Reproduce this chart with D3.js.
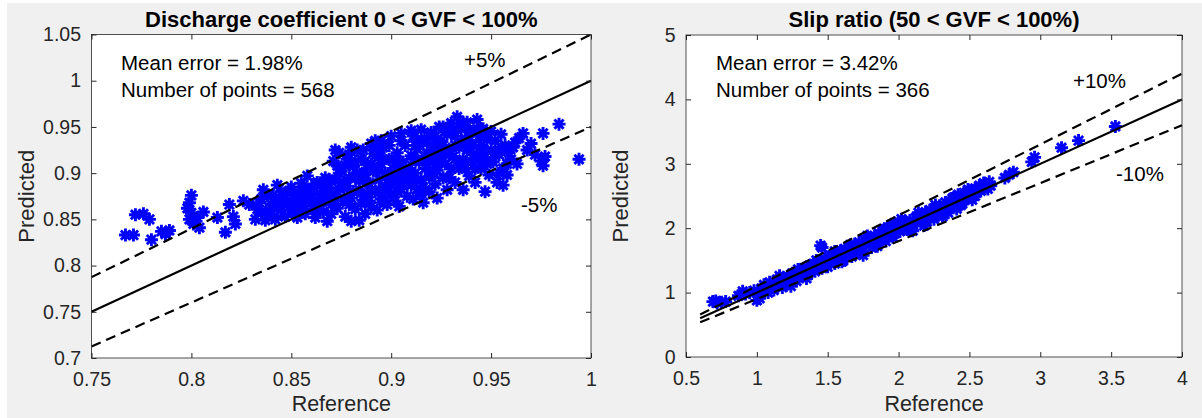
<!DOCTYPE html>
<html>
<head>
<meta charset="utf-8">
<script src="https://cdn.jsdelivr.net/npm/d3@7"></script>
<style>
  body { margin: 0; background: #ffffff; }
  svg { display: block; font-family: "Liberation Sans", Arial, sans-serif; }
  .tick text { fill: #262626; font-size: 19.5px; }
</style>
</head>
<body>
<script>
// Data
// Left panel: discharge coefficient, [reference, predicted]
var dcPoints = [
  [0.767,0.833],[0.771,0.833],[0.772,0.855],[0.776,0.856],[0.779,0.850],[0.780,0.828],[0.785,0.837],[0.789,0.838],[0.787,0.834],
  [0.798,0.862],[0.799,0.868],[0.800,0.876],[0.800,0.857],[0.799,0.850],[0.801,0.845],[0.804,0.841],[0.806,0.858],[0.803,0.852],
  [0.813,0.852],[0.817,0.836],[0.819,0.866],[0.821,0.853],[0.822,0.845],[0.826,0.870],[0.829,0.866],
  [0.832,0.850],[0.833,0.861],[0.835,0.872],[0.836,0.882],[0.838,0.855],[0.840,0.866],[0.841,0.876],[0.842,0.850],[0.843,0.887],
  [0.845,0.860],[0.846,0.870],[0.847,0.853],[0.848,0.879],[0.849,0.864],[0.834,0.868],[0.837,0.849],[0.839,0.860],[0.844,0.872],
  [0.850,0.885],[0.851,0.858],[0.852,0.870],
  [0.853,0.852],[0.854,0.878],[0.855,0.889],[0.856,0.864],[0.857,0.856],[0.858,0.897],[0.859,0.872],[0.860,0.883],[0.861,0.861],
  [0.862,0.852],[0.863,0.890],[0.864,0.869],[0.865,0.877],[0.866,0.858],[0.867,0.895],[0.868,0.848],[0.869,0.884],[0.870,0.866],
  [0.856,0.872],[0.860,0.868],[0.864,0.861],[0.868,0.875],[0.870,0.856],
  [0.871,0.913],[0.872,0.893],[0.873,0.880],[0.873,0.862],[0.874,0.922],[0.875,0.902],[0.876,0.870],[0.877,0.853],[0.878,0.915],
  [0.878,0.886],[0.879,0.895],[0.880,0.848],[0.880,0.873],[0.881,0.907],[0.882,0.861],[0.883,0.925],[0.884,0.882],[0.884,0.892],
  [0.885,0.867],[0.886,0.900],[0.887,0.856],[0.887,0.913],[0.888,0.878],[0.889,0.889],[0.890,0.932],[0.890,0.864],[0.876,0.890],
  [0.882,0.896],[0.886,0.875],[0.884,0.849],
  [0.891,0.902],[0.892,0.880],[0.892,0.919],[0.893,0.860],[0.894,0.893],[0.895,0.910],[0.895,0.872],[0.896,0.928],[0.897,0.885],
  [0.898,0.897],[0.898,0.866],[0.899,0.915],[0.900,0.940],[0.900,0.878],[0.901,0.905],[0.902,0.890],[0.902,0.870],[0.903,0.922],
  [0.904,0.898],[0.904,0.864],[0.905,0.883],[0.906,0.912],[0.907,0.930],[0.907,0.894],[0.908,0.875],[0.909,0.905],[0.910,0.887],
  [0.910,0.919],[0.893,0.905],[0.897,0.900],[0.901,0.895],[0.904,0.908],[0.908,0.900],
  [0.911,0.940],[0.911,0.872],[0.912,0.900],[0.913,0.926],[0.913,0.883],[0.914,0.912],[0.915,0.947],[0.915,0.893],[0.916,0.868],
  [0.917,0.918],[0.917,0.905],[0.918,0.933],[0.919,0.880],[0.919,0.896],[0.920,0.944],[0.921,0.912],[0.921,0.925],[0.922,0.888],
  [0.923,0.903],[0.923,0.873],[0.924,0.950],[0.925,0.919],[0.925,0.935],[0.926,0.895],[0.927,0.910],[0.928,0.882],[0.928,0.942],
  [0.929,0.926],[0.930,0.905],[0.930,0.954],[0.914,0.930],[0.918,0.910],[0.922,0.940],[0.926,0.930],[0.912,0.915],[0.920,0.920],
  [0.924,0.912],
  [0.931,0.918],[0.932,0.940],[0.932,0.890],[0.933,0.961],[0.934,0.928],[0.934,0.905],[0.935,0.948],[0.936,0.915],[0.936,0.882],
  [0.937,0.937],[0.938,0.925],[0.938,0.955],[0.939,0.897],[0.940,0.945],[0.940,0.912],[0.941,0.930],[0.942,0.890],[0.943,0.958],
  [0.943,0.920],[0.944,0.940],[0.945,0.905],[0.945,0.930],[0.946,0.948],[0.947,0.880],[0.947,0.917],[0.948,0.936],[0.949,0.898],
  [0.950,0.925],[0.950,0.945],[0.937,0.905],[0.941,0.920],[0.944,0.915],
  [0.951,0.912],[0.952,0.935],[0.953,0.890],[0.954,0.920],[0.955,0.942],[0.956,0.905],[0.957,0.930],[0.956,0.887],[0.958,0.898],
  [0.959,0.922],[0.960,0.915],[0.962,0.933],[0.964,0.938],[0.966,0.943],[0.968,0.925],[0.970,0.932],[0.972,0.920],[0.975,0.913],
  [0.976,0.908],[0.977,0.918],[0.976,0.943],[0.984,0.953],[0.994,0.915],[0.963,0.910],[0.955,0.928],
  [0.835,0.858],[0.840,0.855],[0.845,0.880],[0.850,0.866],[0.853,0.862],[0.857,0.884],[0.861,0.876],[0.866,0.885],[0.869,0.893],
  [0.872,0.870],[0.875,0.885],[0.877,0.908],[0.879,0.866],[0.881,0.880],[0.883,0.900],[0.885,0.915],[0.888,0.905],[0.889,0.870],
  [0.891,0.925],[0.894,0.882],[0.896,0.915],[0.899,0.888],[0.903,0.880],[0.906,0.900],[0.909,0.893],[0.912,0.930],[0.916,0.885],
  [0.919,0.940],[0.921,0.900],[0.927,0.920],[0.929,0.895],[0.933,0.912],[0.935,0.932],[0.939,0.945],[0.942,0.905],[0.946,0.925],
  [0.948,0.910],[0.874,0.900],[0.878,0.875],[0.896,0.870],[0.899,0.930],[0.905,0.935],[0.911,0.890],[0.915,0.878],[0.926,0.950],
  [0.931,0.945],[0.936,0.955],[0.916,0.935],[0.892,0.935],[0.886,0.925],
  [0.858,0.880],[0.862,0.888],[0.867,0.870],[0.871,0.878],[0.873,0.908],[0.879,0.920],[0.882,0.912],[0.887,0.894],[0.890,0.910],
  [0.894,0.922],[0.898,0.876],[0.902,0.915],[0.906,0.888],[0.910,0.898],[0.913,0.935],[0.918,0.922],[0.923,0.930],[0.927,0.945],
  [0.932,0.930],[0.934,0.950],[0.939,0.935],[0.943,0.948],[0.947,0.942],[0.952,0.922],[0.958,0.910],[0.961,0.928],[0.954,0.900],
  [0.848,0.870],[0.843,0.864],[0.838,0.876],[0.852,0.878],
  [0.872,0.925],[0.880,0.928],[0.895,0.935],[0.905,0.943],[0.910,0.946]
];

// Right panel: slip ratio, [reference, predicted]
var slipPoints = [
  [0.69,0.86],[0.71,0.87],[0.72,0.84],[0.75,0.85],[0.78,0.86],
  [0.87,0.95],[0.90,1.02],[0.92,0.98],[0.95,1.00],[0.98,1.03],[1.00,0.88],[1.02,0.91],[1.03,1.06],[1.05,1.12],[1.07,1.05],
  [1.09,1.16],[1.10,1.10],[1.12,1.04],[1.14,1.20],[1.15,1.12],[1.17,1.22],[1.18,1.08],[1.20,1.18],[1.22,1.25],[1.23,1.15],
  [1.25,1.30],[1.26,1.22],[1.28,1.18],[1.30,1.33],[1.31,1.26],[1.33,1.38],[1.34,1.30],[1.36,1.27],[1.37,1.42],[1.38,1.35],
  [1.40,1.45],[1.41,1.33],[1.43,1.40],[1.44,1.48],[1.45,1.73],[1.46,1.70],[1.46,1.38],[1.48,1.52],[1.49,1.44],[1.50,1.55],
  [1.51,1.47],[1.53,1.58],[1.54,1.50],[1.55,1.45],[1.56,1.62],[1.57,1.53],[1.59,1.65],[1.60,1.55],[1.61,1.50],[1.62,1.68],
  [1.63,1.60],[1.65,1.70],[1.66,1.62],[1.67,1.56],[1.69,1.75],[1.70,1.67],[1.72,1.78],[1.73,1.70],[1.74,1.62],[1.75,1.58],
  [1.76,1.82],[1.77,1.74],[1.79,1.85],[1.80,1.77],[1.81,1.70],[1.83,1.88],[1.84,1.80],[1.85,1.75],[1.86,1.92],[1.87,1.84],
  [1.89,1.96],[1.90,1.87],[1.91,1.80],[1.92,2.00],[1.93,1.93],[1.95,2.05],[1.96,1.90],[1.97,2.08],[1.98,1.97],[2.00,2.04],
  [2.01,1.95],[2.02,2.10],[2.03,2.00],[2.05,2.06],[2.06,1.98],[2.08,2.12],[2.09,2.03],[2.10,1.96],[2.12,2.16],[2.13,2.08],
  [2.15,2.20],[2.16,2.12],[2.18,2.04],[2.19,2.25],[2.20,2.17],[2.22,2.28],[2.23,2.20],[2.25,2.14],[2.26,2.32],[2.27,2.24],
  [2.29,2.35],[2.30,2.28],[2.31,2.18],[2.33,2.40],[2.34,2.30],[2.35,2.24],[2.36,2.42],[2.38,2.35],[2.39,2.48],[2.40,2.40],
  [2.41,2.30],[2.42,2.52],[2.44,2.45],[2.45,2.38],[2.46,2.55],[2.48,2.46],[2.50,2.58],[2.51,2.50],[2.52,2.44],[2.54,2.62],
  [2.55,2.55],[2.57,2.66],[2.58,2.58],[2.60,2.70],[2.62,2.64],[2.64,2.72],[2.65,2.66],
  [1.06,1.08],[1.13,1.15],[1.19,1.21],[1.27,1.28],[1.32,1.34],[1.39,1.40],[1.47,1.48],[1.52,1.52],[1.58,1.59],[1.64,1.64],
  [1.68,1.66],[1.71,1.72],[1.78,1.78],[1.82,1.83],[1.88,1.89],[1.94,1.95],[1.99,2.00],[2.04,2.05],[2.07,2.08],[2.11,2.10],
  [2.14,2.14],[2.17,2.18],[2.21,2.22],[2.24,2.23],[2.28,2.29],[2.32,2.33],[2.37,2.38],[2.43,2.42],[2.47,2.50],[2.53,2.56],
  [2.56,2.60],[2.59,2.63],[2.61,2.67],[2.63,2.61],
  [1.08,1.00],[1.16,1.26],[1.24,1.10],[1.29,1.36],[1.35,1.22],[1.42,1.50],[1.50,1.40],[1.55,1.64],[1.60,1.48],[1.66,1.74],
  [1.72,1.62],[1.78,1.88],[1.85,1.72],[1.90,1.99],[1.96,1.86],[2.02,2.14],[2.08,1.97],[2.14,2.24],[2.20,2.10],[2.26,2.36],
  [2.32,2.22],[2.38,2.46],[2.44,2.36],[2.49,2.60],[2.54,2.50],[2.60,2.62],
  [2.75,2.78],[2.78,2.83],[2.81,2.87],[2.94,3.03],[2.96,3.10],[3.15,3.25],[3.27,3.36],[3.53,3.58]
];

// Tick values
var dcXTicks = [0.75, 0.8, 0.85, 0.9, 0.95, 1];
var dcYTicks = [0.7, 0.75, 0.8, 0.85, 0.9, 0.95, 1, 1.05];
var slipXTicks = [0.5, 1, 1.5, 2, 2.5, 3, 3.5, 4];
var slipYTicks = [0, 1, 2, 3, 4, 5];

// Reference lines: [x start, x end, factor]
var dcLines = [[0.75, 1, 1], [0.75, 1, 1.05], [0.75, 1, 0.95]];
var slipLines = [[0.6, 4, 1], [0.6, 4, 1.1], [0.6, 4, 0.9]];

var svgWidth = 1202;
var svgHeight = 418;

var svg = d3.select("body")
  .append("svg")
  .attr("width", svgWidth)
  .attr("height", svgHeight);

// gray figure background
svg.append("rect")
  .attr("x", 7).attr("y", 3)
  .attr("width", svgWidth - 7).attr("height", svgHeight - 3)
  .attr("fill", "#f0f0f0");

// asterisk marker
var r = 6.5, d = r * 0.707;
var starPath = "M" + (-r) + ",0H" + r + "M0," + (-r) + "V" + r +
  "M" + (-d) + "," + (-d) + "L" + d + "," + d +
  "M" + (-d) + "," + d + "L" + d + "," + (-d);

function drawPanel(p) {
  var x = d3.scaleLinear().domain(p.xDomain).range([p.left, p.right]);
  var y = d3.scaleLinear().domain(p.yDomain).range([p.bottom, p.top]);

  // white plot area
  svg.append("rect")
    .attr("x", p.left).attr("y", p.top)
    .attr("width", p.right - p.left).attr("height", p.bottom - p.top)
    .attr("fill", "#ffffff");

  // scatter points
  svg.append("g")
    .selectAll("path")
    .data(p.points)
    .enter()
    .append("path")
    .attr("d", starPath)
    .attr("transform", function(pt) { return "translate(" + x(pt[0]) + "," + y(pt[1]) + ")"; })
    .attr("stroke", "#0000ff")
    .attr("stroke-width", 2.9)
    .attr("fill", "none");

  // y = x and +/- lines
  svg.append("g")
    .selectAll("line")
    .data(p.lines)
    .enter()
    .append("line")
    .attr("x1", function(l) { return x(l[0]); })
    .attr("y1", function(l) { return y(l[0] * l[2]); })
    .attr("x2", function(l) { return x(l[1]); })
    .attr("y2", function(l) { return y(l[1] * l[2]); })
    .attr("stroke", "#000000")
    .attr("stroke-width", 2.2)
    .attr("stroke-dasharray", function(l) { return l[2] == 1 ? null : "10,6"; });

  // axes, ticks pointing inward
  var fmt = function(v) { return String(+v.toFixed(2)); };
  svg.append("g")
    .attr("transform", "translate(0," + p.bottom + ")")
    .call(d3.axisBottom(x).tickValues(p.xTicks).tickFormat(fmt).tickSizeInner(-5).tickSizeOuter(0).tickPadding(14.5));
  svg.append("g")
    .attr("transform", "translate(" + p.left + ",0)")
    .call(d3.axisLeft(y).tickValues(p.yTicks).tickFormat(fmt).tickSizeInner(-5).tickSizeOuter(0).tickPadding(10.5));
  svg.append("g")
    .attr("transform", "translate(0," + p.top + ")")
    .call(d3.axisTop(x).tickValues(p.xTicks).tickFormat("").tickSizeInner(-5).tickSizeOuter(0));
  svg.append("g")
    .attr("transform", "translate(" + p.right + ",0)")
    .call(d3.axisRight(y).tickValues(p.yTicks).tickFormat("").tickSizeInner(-5).tickSizeOuter(0));
  svg.selectAll(".domain").remove();
  svg.selectAll(".tick line").attr("stroke", "#262626");

  // box
  svg.append("rect")
    .attr("x", p.left).attr("y", p.top)
    .attr("width", p.right - p.left).attr("height", p.bottom - p.top)
    .attr("fill", "none")
    .attr("stroke", "#262626")
    .attr("stroke-width", 0.8);

  // title
  svg.append("text")
    .attr("x", (p.left + p.right) / 2)
    .attr("y", 26.5)
    .attr("text-anchor", "middle")
    .style("font-size", "22px")
    .style("font-weight", "bold")
    .attr("fill", "#000000")
    .text(p.title);

  // axis labels
  svg.append("text")
    .attr("x", (p.left + p.right) / 2)
    .attr("y", 411)
    .attr("text-anchor", "middle")
    .style("font-size", "21.5px")
    .attr("fill", "#262626")
    .text("Reference");
  svg.append("text")
    .attr("transform", "translate(" + (p.left - 58) + "," + ((p.top + p.bottom) / 2) + ") rotate(-90)")
    .attr("text-anchor", "middle")
    .style("font-size", "22px")
    .attr("fill", "#262626")
    .text("Predicted");

  // annotations
  p.notes.forEach(function(n) {
    svg.append("text")
      .attr("x", n[0]).attr("y", n[1])
      .style("font-size", "20.5px")
      .attr("fill", "#000000")
      .text(n[2]);
  });
}

drawPanel({
  left: 91.5, right: 591, top: 34.5, bottom: 358,
  xDomain: [0.75, 1], yDomain: [0.7, 1.05],
  xTicks: dcXTicks, yTicks: dcYTicks,
  points: dcPoints, lines: dcLines,
  title: "Discharge coefficient 0 < GVF < 100%",
  notes: [[121, 69.5, "Mean error = 1.98%"], [121, 97, "Number of points = 568"], [464, 67, "+5%"], [521, 212, "-5%"]]
});

drawPanel({
  left: 686, right: 1182, top: 35, bottom: 357,
  xDomain: [0.5, 4], yDomain: [0, 5],
  xTicks: slipXTicks, yTicks: slipYTicks,
  points: slipPoints, lines: slipLines,
  title: "Slip ratio (50 < GVF < 100%)",
  notes: [[716, 70, "Mean error = 3.42%"], [716, 97, "Number of points = 366"], [1073, 88, "+10%"], [1116, 181, "-10%"]]
});
</script>
</body>
</html>
